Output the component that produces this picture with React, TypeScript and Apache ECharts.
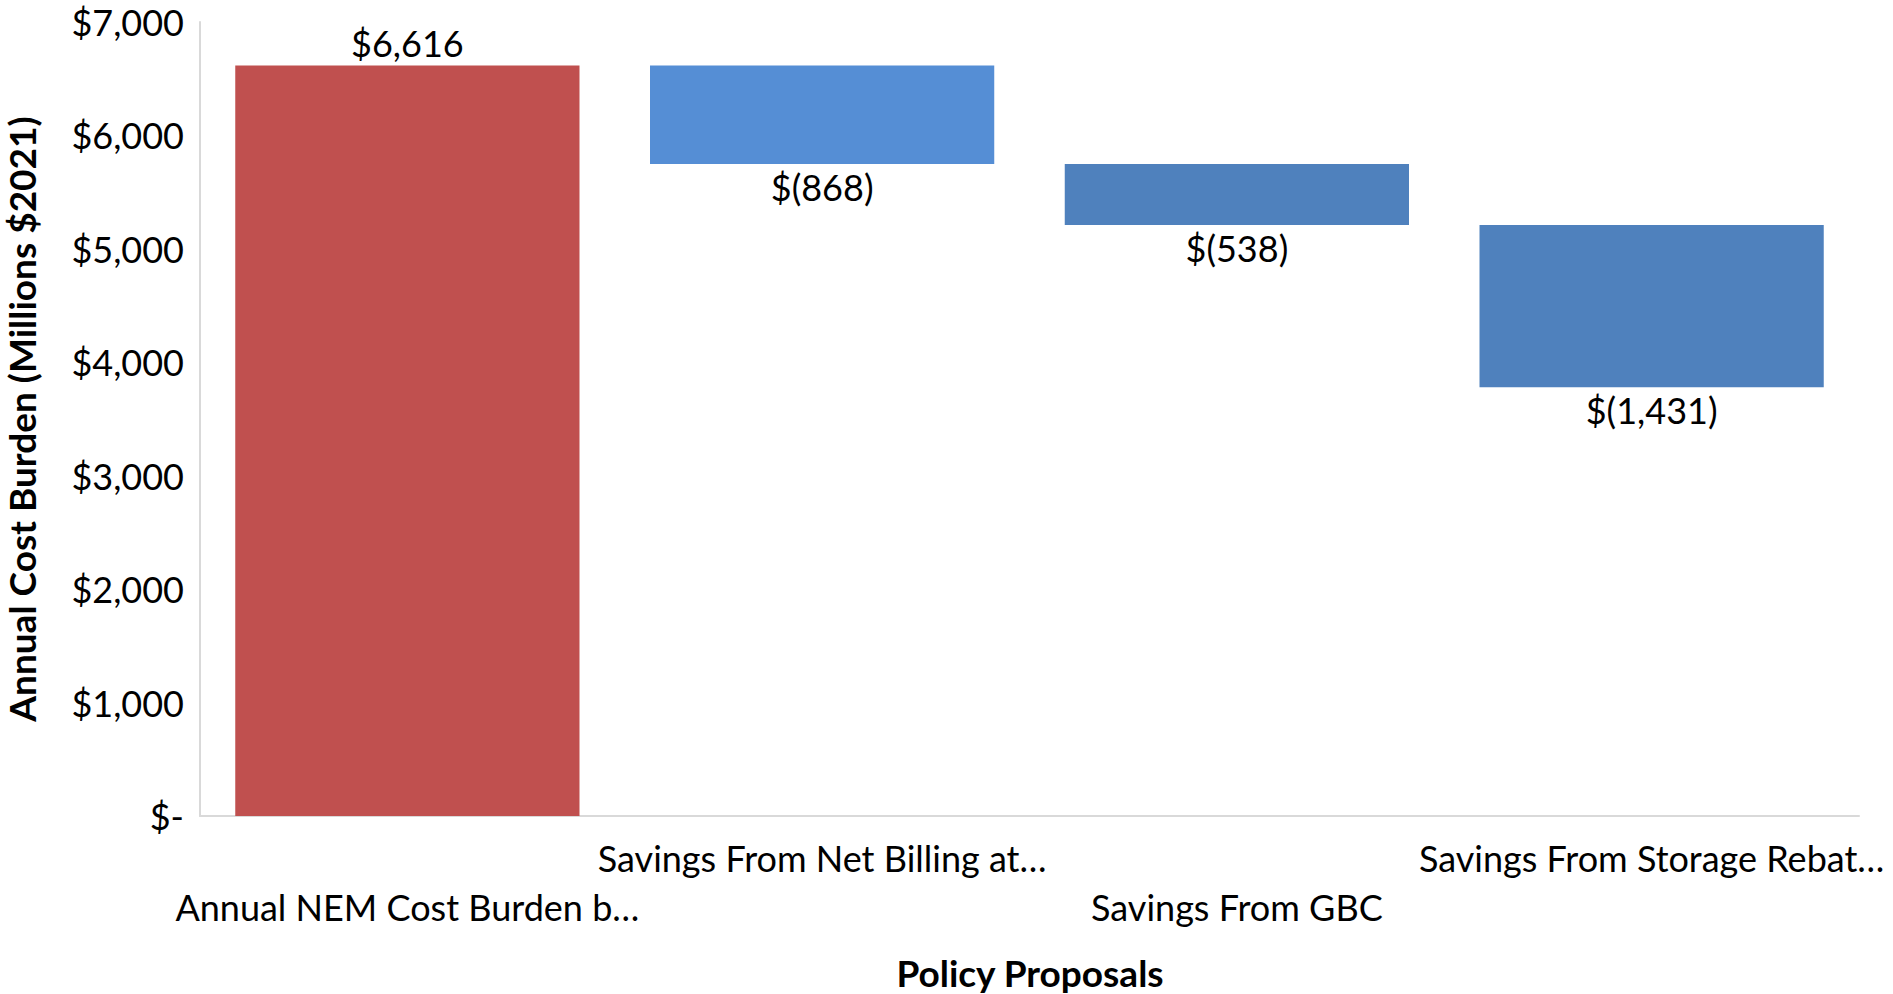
import React, { useEffect, useRef } from "react";
import * as echarts from "echarts";

const categories = [
  "Annual NEM Cost Burden b…",
  "Savings From Net Billing at…",
  "Savings From GBC",
  "Savings From Storage Rebat…",
];
const deltas = [6616, -868, -538, -1431];
const barColors = ["#C0504F", "#558ED5", "#4F81BD", "#4F81BD"];
const yTicks = [0, 1000, 2000, 3000, 4000, 5000, 6000, 7000];
const xTitle = "Policy Proposals";
const yTitle = "Annual Cost Burden (Millions $2021)";

const FONT = "Lato, 'Noto Sans', sans-serif";

function fmtMoney(v: number): string {
  if (v === 0) return "$-";
  const s = Math.abs(v).toLocaleString("en-US");
  return v < 0 ? `$(${s})` : `$${s}`;
}

export default function App() {
  const ref = useRef<HTMLDivElement>(null);
  useEffect(() => {
    if (!ref.current) return;
    const chart = echarts.init(ref.current, undefined, { renderer: "svg" });
    // waterfall: invisible base + visible delta
    const bases: number[] = [];
    const heights: number[] = [];
    let running = 0;
    deltas.forEach((d, i) => {
      if (i === 0) {
        bases.push(0);
        heights.push(d);
        running = d;
      } else {
        running += d;
        bases.push(running);
        heights.push(-d);
      }
    });
    chart.setOption({
      animation: false,
      grid: {
        left: 200,
        right: 34,
        top: 22,
        bottom: 178,
        containLabel: false,
        outerBoundsMode: "none",
      },
      graphic: [
        {
          type: "text",
          x: 1030,
          y: 972,
          style: {
            text: xTitle,
            fontFamily: FONT,
            fontSize: 37,
            fontWeight: "bold",
            fill: "#000",
            align: "center",
            verticalAlign: "middle",
          },
        },
      ],
      xAxis: {
        type: "category",
        data: categories,
        axisLine: { show: true, lineStyle: { color: "#D9D9D9", width: 2 } },
        axisTick: { show: false },
        axisLabel: {
          interval: 0,
          hideOverlap: false,
          margin: 17,
          fontFamily: FONT,
          fontSize: 36,
          color: "#000",
          lineHeight: 49,
          verticalAlign: "top",
          formatter: (v: string, i: number) => (i % 2 === 0 ? "\n" + v : v),
        },
      },
      yAxis: {
        type: "value",
        min: yTicks[0],
        max: yTicks[yTicks.length - 1],
        interval: 1000,
        name: yTitle,
        nameLocation: "middle",
        nameGap: 160,
        nameMoveOverlap: false,
        nameRotate: 90,
        nameTextStyle: {
          fontFamily: FONT,
          fontSize: 37,
          lineHeight: 38,
          fontWeight: "bold",
          color: "#000",
        },
        axisLine: { show: true, lineStyle: { color: "#D9D9D9", width: 2 } },
        axisTick: { show: false },
        splitLine: { show: false },
        axisLabel: {
          margin: 16,
          fontFamily: FONT,
          fontSize: 36,
          color: "#000",
          formatter: (v: number) => fmtMoney(v),
        },
      },
      series: [
        {
          type: "bar",
          stack: "w",
          data: bases,
          itemStyle: { color: "transparent" },
          silent: true,
          barCategoryGap: "17%",
        },
        {
          type: "bar",
          stack: "w",
          barCategoryGap: "17%",
          data: heights.map((h, i) => ({
            value: h,
            itemStyle: { color: barColors[i] },
            label: {
              show: true,
              position: i === 0 ? "top" : "bottom",
              distance: 5,
              formatter: () => fmtMoney(deltas[i]),
              fontFamily: FONT,
              fontSize: 36,
              color: "#000",
            },
          })),
        },
      ],
    });
    return () => chart.dispose();
  }, []);
  return (
    <div
      ref={ref}
      style={{ position: "fixed", left: 0, top: 0, width: 1893, height: 994, background: "#fff" }}
    />
  );
}
